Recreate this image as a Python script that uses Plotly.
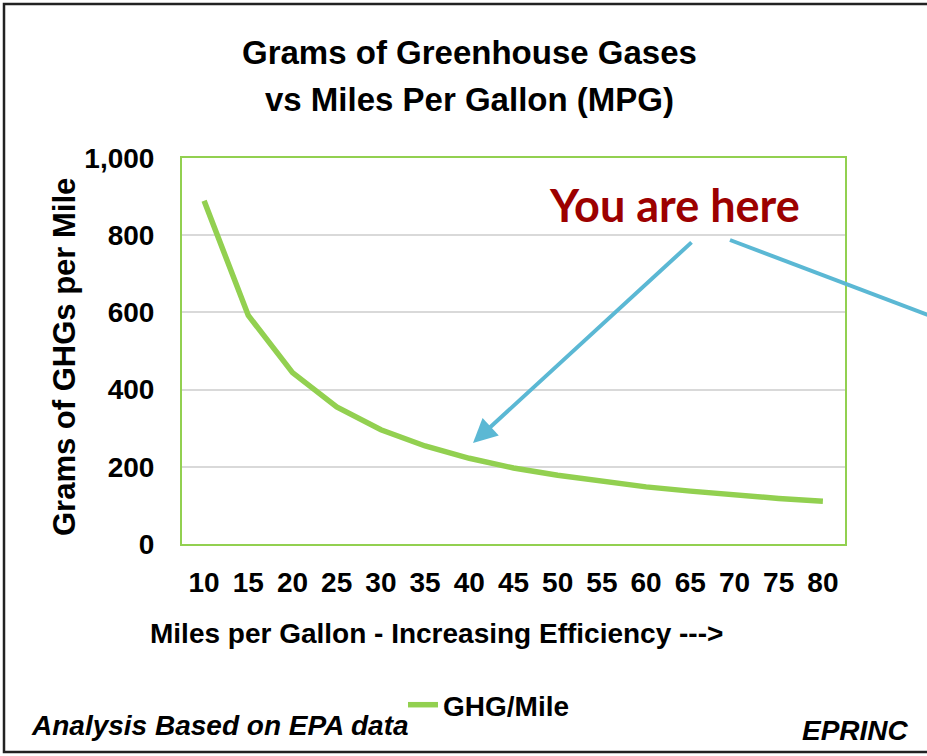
import plotly.graph_objects as go

mpg = ["10", "15", "20", "25", "30", "35", "40", "45", "50", "55", "60", "65", "70", "75", "80"]
ghg_per_mile = [889, 592, 444, 355, 296, 254, 222, 197, 178, 162, 148, 137, 127, 118, 111]
y_ticks = [0, 200, 400, 600, 800, 1000]

SANS = "Liberation Sans, Arial, sans-serif"
GREEN = "#92D050"
BLUE = "#5BB8D4"

fig = go.Figure()
fig.add_trace(go.Scatter(
    x=mpg, y=ghg_per_mile, mode="lines", name="GHG/Mile",
    line=dict(color=GREEN, width=5.5),
))

L, R, T, B = 182, 82, 158, 212
W, H = 927, 756
pw, ph = W - L - R, H - T - B

def px(xp):
    return (xp - L) / pw

def py(yp):
    return (H - B - yp) / ph

fig.update_layout(
    width=W, height=H,
    margin=dict(l=L, r=R, t=T, b=B),
    paper_bgcolor="white", plot_bgcolor="white",
    font=dict(family=SANS, color="black"),
    xaxis=dict(
        type="category", range=[-0.5, len(mpg) - 0.5],
        showgrid=False, zeroline=False,
        showline=True, linecolor=GREEN, linewidth=2, mirror=True,
        tickfont=dict(family=SANS, size=28, color="black", weight="bold"),
        ticks="", ticklen=0, ticklabelstandoff=12,
    ),
    yaxis=dict(
        range=[0, 1000], tickvals=y_ticks, tickformat=",d",
        showgrid=True, gridcolor="#D9D9D9", gridwidth=2,
        zeroline=False, showline=True, linecolor=GREEN, linewidth=2, mirror=True,
        tickfont=dict(family=SANS, size=28, color="black", weight="bold"),
        ticks="", ticklen=0, ticklabelstandoff=20,
    ),
    showlegend=True,
    legend=dict(
        x=px(403), y=py(705), xanchor="left", yanchor="middle",
        xref="paper", yref="paper",
        font=dict(family=SANS, size=28, color="black", weight="bold"),
        bgcolor="rgba(0,0,0,0)",
    ),
)

def label(text, x, y, size, xanchor="center", **kw):
    return dict(text=text, x=px(x), y=py(y), xref="paper", yref="paper",
                xanchor=xanchor, yanchor="middle", showarrow=False,
                font=dict(family=kw.pop("family", SANS), size=size,
                          color=kw.pop("color", "black")), **kw)

ann = [
    label("<b>Grams of Greenhouse Gases</b>", 469, 53, 33),
    label("<b>vs Miles Per Gallon (MPG)</b>", 469, 100, 33),
    label("<b>Grams of GHGs per Mile</b>", 64, 357, 31, textangle=-90),
    label("<b>Miles per Gallon - Increasing Efficiency ---></b>", 436, 633, 28),
    label("<b><i>Analysis Based on EPA data</i></b>", 29, 725, 28, xanchor="left"),
    label("<b><i>EPRINC</i></b>", 911, 730, 28, xanchor="right"),
    label("<b>You are here</b>", 674, 205, 45,
          family="Lato, Open Sans, sans-serif", color="#9C0000"),
    dict(text="", x=px(473), y=py(443), xref="paper", yref="paper",
         ax=693 - 473, ay=241 - 443, axref="pixel", ayref="pixel",
         showarrow=True, arrowhead=2, arrowsize=1.2, arrowwidth=4, arrowcolor=BLUE),
]
fig.update_layout(annotations=ann)

fig.add_shape(type="line", xref="paper", yref="paper",
              x0=px(730), y0=py(240), x1=px(960), y1=py(327),
              line=dict(color=BLUE, width=4))
fig.add_shape(type="rect", xref="paper", yref="paper",
              x0=px(4), y0=py(752), x1=px(940), y1=py(4),
              line=dict(color="#222222", width=2.5), layer="below")

fig.write_html("out.html", config={"displayModeBar": False},
               post_script="document.body.style.margin='0';")
